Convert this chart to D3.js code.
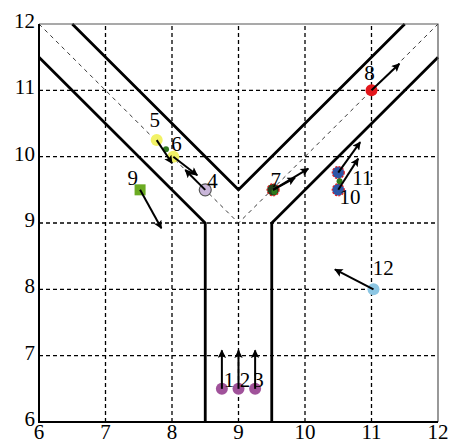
<!DOCTYPE html>
<meta charset="utf-8">
<style>
  body { margin: 0; background: #fff; }
  text { font-family: "Liberation Serif", "Times New Roman", serif; }
</style>
<script src="https://d3js.org/d3.v7.min.js"></script>
<div id="my_dataviz"></div>
<script>
// axis ticks
var xTicks = [6, 7, 8, 9, 10, 11, 12];
var yTicks = [6, 7, 8, 9, 10, 11, 12];

// walls of the Y shaped corridor
var wallLeft = [[6, 11.5], [8.5, 9], [8.5, 6]];
var wallRight = [[12, 11.5], [9.5, 9], [9.5, 6]];
var wallInner = [[6.5, 12], [9, 9.5], [11.5, 12]];
var centerLine = [[6, 12], [9, 9], [12, 12]];

// agents
var agentId = [1, 2, 3, 4, 5, 6, 7, 8, 9, 10, 11, 12];
var agentX  = [8.75, 9.0, 9.25, 8.5, 7.77, 8.02, 9.52, 11.0, 7.52, 10.5, 10.5, 11.03];
var agentY  = [6.5, 6.5, 6.5, 9.5, 10.25, 10.0, 9.5, 11.0, 9.5, 9.5, 9.76, 8.0];
// label anchor (bottom-left of number)
var labelX  = [8.78, 9.02, 9.22, 8.53, 7.66, 7.99, 9.48, 10.89, 7.33, 10.52, 10.71, 11.02];
var labelY  = [6.53, 6.53, 6.53, 9.53, 10.45, 10.08, 9.54, 11.15, 9.58, 9.28, 9.58, 8.21];

// small green dots
var dotX = [7.91, 10.52, 9.54];
var dotY = [10.11, 9.63, 9.47];

// velocity arrows (from -> to)
var arrX0 = [8.75, 9.0, 9.25, 8.5, 7.77, 8.02, 9.52, 9.52, 11.0, 7.52, 10.5, 10.5, 11.03];
var arrY0 = [6.5, 6.5, 6.5, 9.5, 10.25, 10.0, 9.5, 9.5, 11.0, 9.5, 9.5, 9.76, 8.0];
var arrX1 = [8.75, 9.0, 9.25, 8.2, 8.0, 8.38, 9.85, 10.05, 11.42, 7.84, 10.8, 10.83, 10.45];
var arrY1 = [7.08, 7.08, 7.08, 9.8, 9.9, 9.72, 9.68, 9.82, 11.4, 8.92, 9.97, 10.22, 8.3];

var fillOf = {1: "#a0529a", 2: "#a0529a", 3: "#a0529a", 4: "#c9b6d9", 5: "#f2f266", 6: "#f2f266",
  7: "#24401c", 8: "#e3171c", 9: "#6bab22", 10: "#2d55a6", 11: "#2d55a6", 12: "#8cc6e3"};

var x = d3.scaleLinear().domain([6, 12]).range([39, 438]);
var y = d3.scaleLinear().domain([6, 12]).range([422, 24]);

var svg = d3.select("#my_dataviz").append("svg")
  .attr("width", 452).attr("height", 444);

svg.append("defs").append("marker")
  .attr("id", "head")
  .attr("viewBox", "0 0 10 10")
  .attr("refX", 9).attr("refY", 5)
  .attr("markerWidth", 5.5).attr("markerHeight", 4.2)
  .attr("markerUnits", "strokeWidth")
  .attr("orient", "auto")
  .append("path").attr("d", "M0,0 L10,5 L0,10 L2,5 Z").attr("fill", "#000");

// grid
svg.selectAll(".vgrid").data(xTicks.slice(1, -1)).enter().append("line")
  .attr("x1", d => x(d)).attr("x2", d => x(d))
  .attr("y1", y(6)).attr("y2", y(12))
  .attr("stroke", "#000").attr("stroke-width", 1.3).attr("stroke-dasharray", "4,3");
svg.selectAll(".hgrid").data(yTicks.slice(1, -1)).enter().append("line")
  .attr("x1", x(6)).attr("x2", x(12))
  .attr("y1", d => y(d)).attr("y2", d => y(d))
  .attr("stroke", "#000").attr("stroke-width", 1.3).attr("stroke-dasharray", "4,3");

var line = d3.line().x(d => x(d[0])).y(d => y(d[1]));

svg.append("path").attr("d", line(centerLine))
  .attr("fill", "none").attr("stroke", "#222").attr("stroke-width", 0.9).attr("stroke-dasharray", "4,4");

[wallLeft, wallRight, wallInner].forEach(function(w) {
  svg.append("path").attr("d", line(w))
    .attr("fill", "none").attr("stroke", "#000").attr("stroke-width", 2.8);
});

// frame
svg.append("path")
  .attr("d", "M" + x(6) + "," + y(12) + "H" + x(12) + "V" + y(6))
  .attr("fill", "none").attr("stroke", "#555").attr("stroke-width", 1.2);
svg.append("path")
  .attr("d", "M" + x(6) + "," + y(12) + "V" + y(6) + "H" + x(12))
  .attr("fill", "none").attr("stroke", "#000").attr("stroke-width", 2);

// tick labels
svg.selectAll(".xl").data(xTicks).enter().append("text")
  .attr("x", d => x(d)).attr("y", 439)
  .attr("text-anchor", "middle").style("font-size", "21px").text(d => d);
svg.selectAll(".yl").data(yTicks).enter().append("text")
  .attr("x", 35).attr("y", d => y(d) + 4)
  .attr("text-anchor", "end").style("font-size", "21px").text(d => d);

// agents
agentId.forEach(function(id, i) {
  var cx = x(agentX[i]), cy = y(agentY[i]);
  if (id === 9) {
    svg.append("rect").attr("x", cx - 5.5).attr("y", cy - 5.5)
      .attr("width", 11).attr("height", 11).attr("fill", fillOf[id]);
  } else {
    svg.append("circle").attr("cx", cx).attr("cy", cy).attr("r", 6)
      .attr("fill", fillOf[id])
      .attr("stroke", id === 4 ? "#555" : (id === 7 || id === 10 || id === 11) ? "#e3171c" : "none")
      .attr("stroke-width", 1.2)
      .attr("stroke-dasharray", (id === 7 || id === 10 || id === 11) ? "2,1.5" : null);
  }
});

svg.selectAll(".dot").data(dotX).enter().append("circle")
  .attr("cx", (d, i) => x(d)).attr("cy", (d, i) => y(dotY[i]))
  .attr("r", 3).attr("fill", "#2f7a1c");

// arrows
arrX0.forEach(function(v, i) {
  svg.append("line")
    .attr("x1", x(v)).attr("y1", y(arrY0[i]))
    .attr("x2", x(arrX1[i])).attr("y2", y(arrY1[i]))
    .attr("stroke", "#000").attr("stroke-width", 2)
    .attr("marker-end", "url(#head)");
});

// agent numbers
svg.selectAll(".lab").data(agentId).enter().append("text")
  .attr("x", (d, i) => x(labelX[i])).attr("y", (d, i) => y(labelY[i]))
  .style("font-size", "21px").text(d => d);
</script>
